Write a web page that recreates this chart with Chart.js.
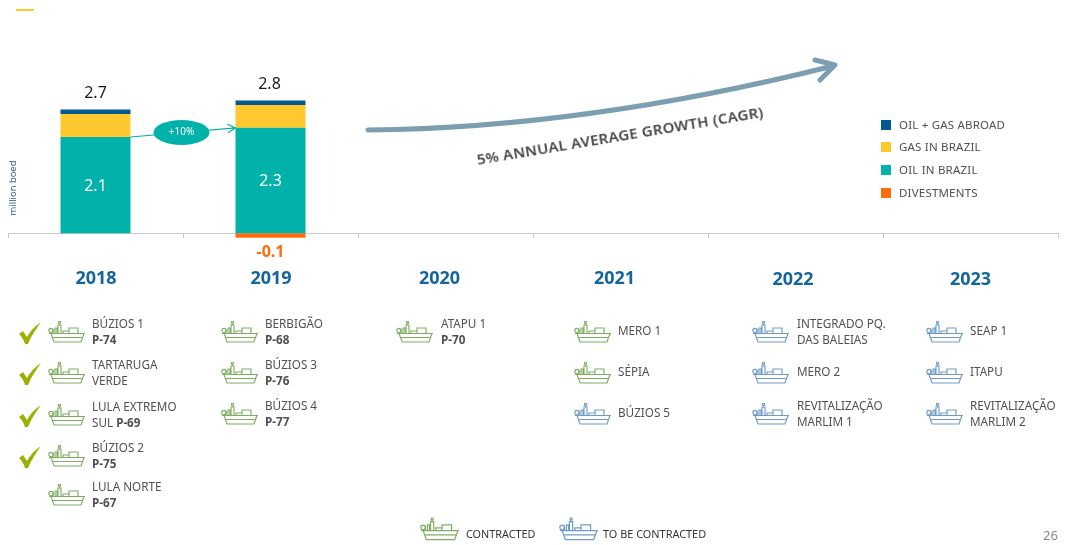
<!DOCTYPE html>
<html lang="en">
<head>
<meta charset="UTF-8" />
<title>Production growth</title>
<script src="https://cdn.jsdelivr.net/npm/chart.js"></script>
<style>
  html, body { margin: 0; background: #fff; }
  body { width: 1068px; height: 545px; position: relative; overflow: hidden; font-family: "Noto Sans", sans-serif; color: #505050; }
  canvas { position: absolute; left: 0; top: 0; }
  .abs { position: absolute; white-space: nowrap; }
  .item { font-size: 11.7px; line-height: 15.5px; transform: translateY(-50%); }
  .ship { position: absolute; transform: translateY(-50%); }
  .ship * { fill: none; stroke-width: 1.15; }
  .swatch { position: absolute; width: 10px; height: 10px; }
</style>
</head>
<body>
<canvas id="chart" width="1068" height="545"></canvas>
<div id="overlay"></div>

<svg width="0" height="0" style="position:absolute">
  <symbol id="shipIcon" viewBox="0 0 38 22">
    <circle cx="3" cy="9.5" r="2.2"/>
    <path d="M5 13V8M7 13V7H9V13M10 13V4H13V13M11.5 4V2M13 13V9"/>
    <circle cx="11.5" cy="1.4" r="1.1"/>
    <path d="M15 13V10H21V13M21 13V7H30V13"/>
    <path d="M1 12.5H37M3 12.5L6 21H33L36 12.5M4.5 16.5H34.5"/>
  </symbol>
  <symbol id="checkIcon" viewBox="0 0 24 24">
    <path d="M1 13L5 10L9 16C12 10 17 5 23 1C18 8 13 15 10 23H7C6 19 4 16 1 13Z"/>
  </symbol>
</svg>

<script>
const years = ['2018', '2019', '2020', '2021', '2022', '2023'];
const oilBrazil = [2.1, 2.3, null, null, null, null];
const gasBrazil = [0.5, 0.5, null, null, null, null];
const oilGasAbroad = [0.1, 0.1, null, null, null, null];
const divestments = [null, -0.1, null, null, null, null];
const totals = [2.7, 2.8, null, null, null, null];

// name lines, bold code, contracted?, already done?
const projects2018 = [
  [['BÚZIOS 1'], 'P-74', true, true],
  [['TARTARUGA', 'VERDE'], '', true, true],
  [['LULA EXTREMO'], 'SUL |P-69', true, true],
  [['BÚZIOS 2'], 'P-75', true, true],
  [['LULA NORTE'], 'P-67', true, false]
];
const projects2019 = [
  [['BERBIGÃO'], 'P-68', true, false],
  [['BÚZIOS 3'], 'P-76', true, false],
  [['BÚZIOS 4'], 'P-77', true, false]
];
const projects2020 = [
  [['ATAPU 1'], 'P-70', true, false]
];
const projects2021 = [
  [['MERO 1'], '', true, false],
  [['SÉPIA'], '', true, false],
  [['BÚZIOS 5'], '', false, false]
];
const projects2022 = [
  [['INTEGRADO PQ.', 'DAS BALEIAS'], '', false, false],
  [['MERO 2'], '', false, false],
  [['REVITALIZAÇÃO', 'MARLIM 1'], '', false, false]
];
const projects2023 = [
  [['SEAP 1'], '', false, false],
  [['ITAPU'], '', false, false],
  [['REVITALIZAÇÃO', 'MARLIM 2'], '', false, false]
];

const TEAL = '#00b2a9', YELLOW = '#ffc82e', NAVY = '#00598f', ORANGE = '#ff6c0c';
const GREEN_SHIP = '#7fae62', BLUE_SHIP = '#6f9bc8';
const BLUE_TEXT = '#13659c';

// the year labels in the slide are not quite centred on their slots
const yearNudgeX = [0.5, 0.5, -6, -6, -2.5, 0];
const yearNudgeY = [0, 0, 0, 0, 1, 1];

const overlay = document.getElementById('overlay');

function addText(x, y, html, css) {
  const d = document.createElement('div');
  d.className = 'abs';
  d.style.cssText = `left:${x}px;top:${y}px;${css || ''}`;
  d.innerHTML = html;
  overlay.appendChild(d);
  return d;
}

function addShip(x, y, color, w, h) {
  overlay.insertAdjacentHTML('beforeend',
    `<svg class="ship" style="left:${x}px;top:${y}px;stroke:${color}" width="${w}" height="${h}"><use href="#shipIcon"/></svg>`);
}

function renderColumn(list, iconX, textX, rows) {
  list.forEach((p, i) => {
    const y = rows[i];
    addShip(iconX, y + 1, p[2] ? GREEN_SHIP : BLUE_SHIP, 38, 22);
    let html = p[0].join('<br>');
    if (p[1]) {
      const parts = p[1].split('|');
      const code = parts.pop();
      html += '<br>' + (parts[0] || '') + '<b>' + code + '</b>';
    }
    const d = addText(textX, y, html);
    d.classList.add('item');
    if (p[3]) {
      overlay.insertAdjacentHTML('beforeend',
        `<svg class="ship" style="left:18px;top:${y + 2}px" width="24" height="24"><use href="#checkIcon" style="fill:#9bb000"/></svg>`);
    }
  });
}

renderColumn(projects2018, 48, 92, [331, 372, 414, 455, 494]);
renderColumn(projects2019, 221, 265, [331, 372, 413]);
renderColumn(projects2020, 396, 441, [331]);
renderColumn(projects2021, 574, 618, [331, 372, 413]);
renderColumn(projects2022, 752, 797, [331, 372, 413]);
renderColumn(projects2023, 926, 970, [331, 372, 413]);

// legend on the right
[['OIL + GAS ABROAD', NAVY, 125], ['GAS IN BRAZIL', YELLOW, 147], ['OIL IN BRAZIL', TEAL, 170], ['DIVESTMENTS', ORANGE, 193]].forEach(l => {
  overlay.insertAdjacentHTML('beforeend', `<div class="swatch" style="left:881px;top:${l[2] - 5}px;background:${l[1]}"></div>`);
  addText(899, l[2] - 1, l[0], 'font-size:11.5px;transform:translateY(-50%);letter-spacing:.2px');
});

// bottom legend, side texts
addShip(420, 529, GREEN_SHIP, 40, 24);
addText(466, 533, 'CONTRACTED', 'font-size:10.8px;color:#333;transform:translateY(-50%)');
addShip(559, 529, BLUE_SHIP, 40, 24);
addText(603, 533, 'TO BE CONTRACTED', 'font-size:10.9px;color:#333;transform:translateY(-50%)');
addText(1043, 535, '26', 'font-size:13px;color:#8a8a8a;transform:translateY(-50%)');
addText(12, 188, 'million boed', 'font-size:9.4px;color:#2d6286;transform:translate(-50%,-50%) rotate(-90deg)');
addText(620, 135, '5% ANNUAL AVERAGE GROWTH (CAGR)', 'font-size:15px;font-weight:600;color:#454545;transform:translate(-50%,-50%) rotate(-9.5deg);letter-spacing:.25px');
overlay.insertAdjacentHTML('beforeend', '<div class="abs" style="left:16px;top:9px;width:18px;height:2px;background:#ffc82e"></div>');

const yearNudge = {
  id: 'yearNudge',
  beforeDraw(chart) {
    chart.scales.x.getLabelItems(chart.chartArea).forEach((it, i) => {
      if (it.nudged) return;
      it.options.translation[0] += yearNudgeX[i];
      it.options.translation[1] += yearNudgeY[i];
      it.nudged = true;
    });
  }
};

const annotations = {
  id: 'annotations',
  afterDatasetsDraw(chart) {
    const c = chart.ctx;
    const oilBars = chart.getDatasetMeta(0).data;
    const abroadBars = chart.getDatasetMeta(2).data;
    const divestBars = chart.getDatasetMeta(3).data;
    c.save();
    c.textAlign = 'center';
    c.textBaseline = 'middle';

    // values on the bars
    oilBars.forEach((b, i) => {
      if (oilBrazil[i] == null) return;
      c.fillStyle = '#fff';
      c.font = '16px "Noto Sans"';
      c.fillText(oilBrazil[i].toFixed(1), b.x, (b.y + b.base) / 2 + 1);
      c.fillStyle = '#1c1c1c';
      c.fillText(totals[i].toFixed(1), b.x - (i ? 1 : 0), abroadBars[i].y - 16);
    });
    divestBars.forEach((b, i) => {
      if (divestments[i] == null) return;
      c.fillStyle = ORANGE;
      c.font = 'bold 16px "Noto Sans"';
      c.fillText(divestments[i].toFixed(1), b.x, b.y + 15);
    });

    // +10% arrow between oil bars
    const a = oilBars[0], b = oilBars[1];
    const x0 = a.x + a.width / 2, x1 = b.x - b.width / 2;
    const ang = Math.atan2(b.y - a.y, x1 - x0);
    c.strokeStyle = TEAL;
    c.lineWidth = 1.2;
    c.beginPath();
    c.moveTo(x0, a.y);
    c.lineTo(x1, b.y);
    c.moveTo(x1 - 9 * Math.cos(ang - .5), b.y - 9 * Math.sin(ang - .5));
    c.lineTo(x1, b.y);
    c.lineTo(x1 - 9 * Math.cos(ang + .5), b.y - 9 * Math.sin(ang + .5));
    c.stroke();
    const mx = (x0 + x1) / 2 - 1.5, my = (a.y + b.y) / 2;
    c.fillStyle = TEAL;
    c.beginPath();
    c.ellipse(mx, my, 28, 12.5, 0, 0, Math.PI * 2);
    c.fill();
    c.fillStyle = '#fff';
    c.font = '10px "Noto Sans"';
    c.fillText('+10%', mx, my);

    // growth arrow
    c.strokeStyle = '#7c9eb1';
    c.lineCap = 'round';
    c.lineJoin = 'round';
    c.lineWidth = 5;
    c.beginPath();
    c.moveTo(368, 130);
    c.quadraticCurveTo(585, 128, 833, 66);
    c.stroke();
    c.beginPath();
    c.moveTo(815, 60);
    c.lineTo(835, 65);
    c.lineTo(820, 80);
    c.stroke();
    c.restore();
  }
};

const barOpts = { stack: 'a', barPercentage: 1, categoryPercentage: 0.4 };

new Chart(document.getElementById('chart'), {
  type: 'bar',
  plugins: [yearNudge, annotations],
  data: {
    labels: years,
    datasets: [
      { label: 'OIL IN BRAZIL', data: oilBrazil, backgroundColor: TEAL, ...barOpts },
      { label: 'GAS IN BRAZIL', data: gasBrazil, backgroundColor: YELLOW, ...barOpts },
      { label: 'OIL + GAS ABROAD', data: oilGasAbroad, backgroundColor: NAVY, ...barOpts },
      { label: 'DIVESTMENTS', data: divestments, backgroundColor: ORANGE, ...barOpts }
    ]
  },
  options: {
    responsive: false,
    animation: false,
    layout: { padding: { left: 8, right: 10, top: 50, bottom: 266 } },
    plugins: { legend: { display: false }, tooltip: { enabled: false } },
    scales: {
      y: { display: false, stacked: true, min: -1, max: 4 },
      x: {
        stacked: true,
        position: { y: 0 },
        border: { color: '#c9c9c9' },
        grid: { drawOnChartArea: false, color: '#c9c9c9', tickLength: 4 },
        ticks: { color: BLUE_TEXT, font: { size: 18, weight: 'bold', family: '"Noto Sans"' }, padding: 31, maxRotation: 0 }
      }
    }
  }
});
</script>
</body>
</html>
